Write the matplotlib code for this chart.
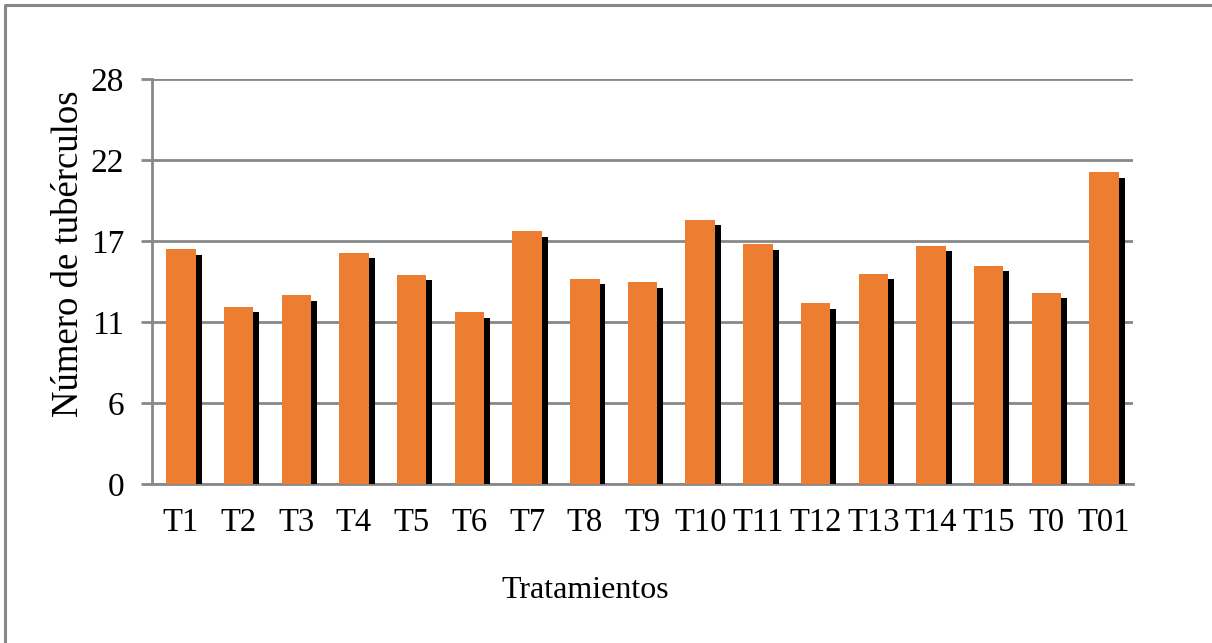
import matplotlib
matplotlib.use("Agg")
import matplotlib.pyplot as plt
import matplotlib.patheffects as pe
from matplotlib.lines import Line2D

categories = ["T1", "T2", "T3", "T4", "T5", "T6", "T7", "T8", "T9", "T10",
              "T11", "T12", "T13", "T14", "T15", "T0", "T01"]
values = [16.23, 12.26, 13.05, 16.0, 14.47, 11.9, 17.47, 14.2, 13.95, 18.28,
          16.6, 12.52, 14.55, 16.48, 15.1, 13.23, 21.56]
ytick_values = [0, 5.6, 11.2, 16.8, 22.4, 28.0]
ytick_labels = ["0", "6", "11", "17", "22", "28"]

plt.rcParams['font.family'] = ['Liberation Serif', 'DejaVu Serif']

W, H = 1212, 643
fig = plt.figure(figsize=(W / 100, H / 100), dpi=100)
ax = fig.add_axes([152 / W, 1 - 484 / H, (1133 - 152) / W, (484 - 79) / H])

grid_c = "#888888"
x = range(len(categories))
bars = ax.bar(x, values, width=0.51, color="#ED7D31", zorder=3)
for b in bars:
    b.set_path_effects([pe.SimplePatchShadow(offset=(4.3, -4.1), shadow_rgbFace="black",
                                             alpha=1.0), pe.Normal()])

ax.set_xlim(-0.5, len(categories) - 0.5)
ax.set_ylim(0, 28)
ax.set_yticks(ytick_values)
ax.set_yticklabels(ytick_labels)
ax.set_xticks(list(x))
ax.set_xticklabels(categories)
ax.yaxis.grid(True, color=grid_c, linewidth=2, zorder=0)
ax.set_axisbelow(True)
for s in ["top", "right"]:
    ax.spines[s].set_visible(False)
for s in ["left", "bottom"]:
    ax.spines[s].set_color(grid_c)
    ax.spines[s].set_linewidth(2)
ax.tick_params(axis="y", length=8, width=2, color=grid_c, labelsize=24, pad=12)
ax.tick_params(axis="x", length=0, labelsize=23.5, pad=17)

ax.set_xlabel("Tratamientos", fontsize=23)
ax.xaxis.set_label_coords((585 - 152) / 981, -(576 - 484) / 405)
ax.set_ylabel("Número de tubérculos", fontsize=26.5)
ax.yaxis.set_label_coords(-(152 - 86) / 981, (484 - 254) / 405)

frame = Line2D([5 / W, 5 / W, 1.0], [0.0, 1 - 4.5 / H, 1 - 4.5 / H],
               transform=fig.transFigure, color=grid_c, linewidth=2.2)
fig.add_artist(frame)

fig.savefig("out.png", dpi=100, facecolor="white")
